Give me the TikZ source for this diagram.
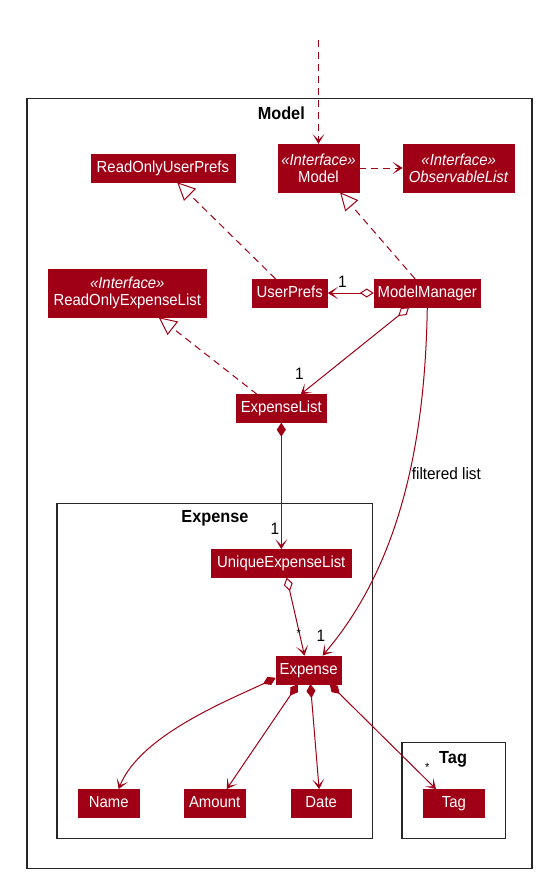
\documentclass[tikz,border=0pt]{standalone}
\usepackage{fontspec}
\setmainfont{Liberation Sans}[FakeStretch=0.93]
\usetikzlibrary{arrows.meta}

\definecolor{umlred}{RGB}{160,0,21}

\tikzset{
  classbox/.style={fill=umlred, draw=umlred, text=white, inner xsep=3.3pt, inner ysep=0pt,
    minimum height=28pt, text height=11.5pt, text depth=3pt, font=\fontsize{16}{17}\selectfont},
  ifacebox/.style={fill=umlred, draw=umlred, text=white, inner xsep=3.3pt, inner ysep=0pt,
    minimum height=48pt, align=center, font=\fontsize{16}{17}\selectfont},
  pkgframe/.style={draw=black!85, line width=1.5pt},
  pkgtitle/.style={font=\fontsize{17.5}{20}\selectfont\bfseries},
  multlabel/.style={font=\fontsize{16.5}{18}\selectfont},
  link/.style={draw=umlred, line width=1pt},
  dashline/.style={link, dash pattern=on 7pt off 5pt},
  dep/.style={dashline, -{Stealth[length=10pt, width=12pt, inset=6pt]}},
  realize/.style={dashline, -{Triangle[open, length=18pt, width=17pt]}},
  assoc/.style={link, -{Stealth[length=10pt, width=12pt, inset=6pt]}},
  aggr/.style={link, {Diamond[open, length=14pt, width=9pt]}-{Stealth[length=10pt, width=12pt, inset=6pt]}},
  comp/.style={link, {Diamond[length=14pt, width=9pt]}-{Stealth[length=10pt, width=12pt, inset=6pt]}}
}

\begin{document}
\begin{tikzpicture}[x=1pt, y=-1pt]
        \useasboundingbox (0,0) rectangle (547,881);

        % Draw package frames
        \draw[pkgframe] (27.2,98.7) rectangle (532,868.3);
        \node[pkgtitle] at (281.3,113.7) {Model};
        \draw[pkgframe] (56.9,503.3) rectangle (372.5,838.7);
        \node[pkgtitle] at (214.9,518.7) {Expense};
        \draw[pkgframe] (401.8,742.7) rectangle (505.4,838.7);
        \node[pkgtitle] at (453.1,759) {Tag};

        % Draw interfaces
        \node[ifacebox, minimum width=78.5pt] (model) at (318.5,168) {\textit{«Interface»}\\Model};
        \node[ifacebox, minimum width=111.6pt] (obslist) at (458.7,168) {\textit{«Interface»}\\\textit{ObservableList}};
        \node[classbox, minimum width=143.7pt] (roprefs) at (162.9,168) {ReadOnlyUserPrefs};
        \node[ifacebox, minimum width=158.4pt] (roexplist) at (127.3,293) {\textit{«Interface»}\\ReadOnlyExpenseList};

        % Draw classes
        \node[classbox, minimum width=75.7pt] (userprefs) at (289.7,293) {UserPrefs};
        \node[classbox, minimum width=106.7pt] (manager) at (427.3,293) {ModelManager};
        \node[classbox, minimum width=90.4pt] (explist) at (281.3,408.5) {ExpenseList};
        \node[classbox, minimum width=140.6pt] (uniqlist) at (281.3,563.3) {UniqueExpenseList};
        \node[classbox, minimum width=65.6pt] (expense) at (308.7,669.8) {Expense};
        \node[classbox, minimum width=61.4pt] (name) at (108.8,803.3) {Name};
        \node[classbox, minimum width=61.8pt] (amount) at (214.7,803.3) {Amount};
        \node[classbox, minimum width=60.7pt] (date) at (321.2,803.3) {Date};
        \node[classbox, minimum width=61.4pt] (tag) at (453.8,803.3) {Tag};

        % Draw dependencies and realizations
        \coordinate (outside) at (318.5,40);
        \draw[dep] (outside) -- (model.north);
        \draw[dep] (model.east) -- (obslist.west);
        \draw[realize] ([xshift=-14.2pt]userprefs.north) -- ([xshift=14.3pt]roprefs.south);
        \draw[realize] ([xshift=-12.3pt]manager.north) -- ([xshift=21.5pt]model.south);
        \draw[realize] ([xshift=-24.3pt]explist.north) -- ([xshift=31.4pt]roexplist.south);

        % Draw aggregations and compositions
        \draw[aggr] (manager.west) -- (userprefs.east);
        \draw[aggr] ([xshift=-18.2pt]manager.south) -- ([xshift=19.4pt]explist.north);
        \draw[comp] (explist.south) -- (uniqlist.north);
        \draw[aggr] ([xshift=5.4pt]uniqlist.south) -- ([xshift=-4.2pt]expense.north);
        \draw[assoc] (manager.south) .. controls +(-2,123) and +(82,-96) .. ([xshift=13.9pt]expense.north);
        \node[multlabel] at (446.4,473.3) {filtered list};

        \draw[comp] ([yshift=-8pt]expense.west) .. controls +(-46,22) and +(21.4,-54) .. ([xshift=9.8pt]name.north);
        \draw[comp] ([xshift=-10.7pt]expense.south) -- ([xshift=12pt]amount.north);
        \draw[comp] ([xshift=1.7pt]expense.south) -- ([xshift=-2.1pt]date.north);
        \draw[comp] ([xshift=21pt]expense.south) -- ([xshift=-17.8pt]tag.north);

        % Mark multiplicities
        \node[multlabel] at (342.5,281.7) {1};
        \node[multlabel] at (299.3,374.3) {1};
        \node[multlabel] at (274.8,529.3) {1};
        \node[font=\fontsize{12}{14}\selectfont] at (298.9,633) {*};
        \node[multlabel] at (320.9,635.7) {1};
        \node[font=\fontsize{12}{14}\selectfont] at (427.3,767) {*};
    \end{tikzpicture}
\end{document}
